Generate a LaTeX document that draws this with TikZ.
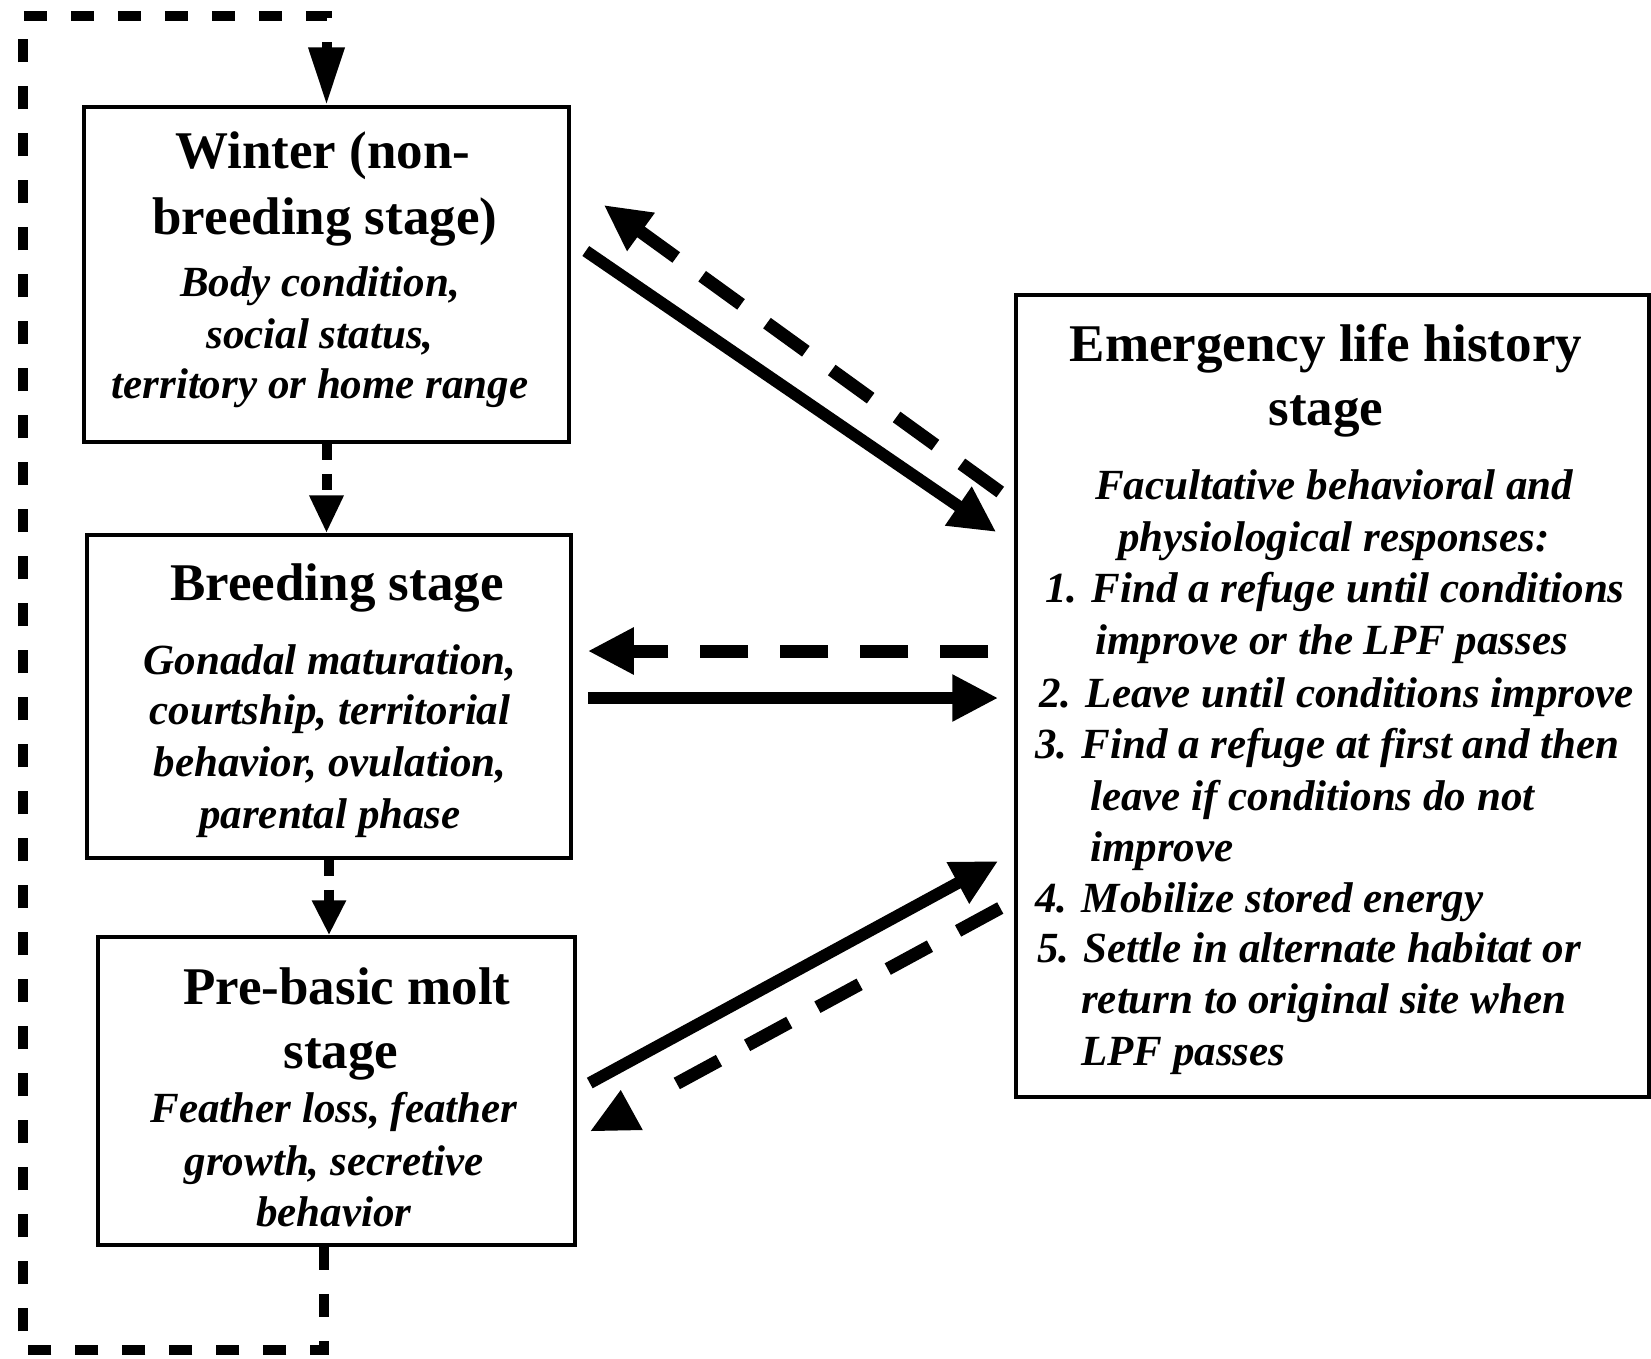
\documentclass[tikz,border=0pt]{standalone}
\usepackage{fontspec}
\setmainfont{Liberation Serif}
\usetikzlibrary{arrows.meta,calc}
\begin{document}
\begin{tikzpicture}[x=1pt,y=-1pt,
  box/.style={draw, line width=3.5pt, inner sep=0pt},
  ttl/.style={font=\fontsize{53}{65}\selectfont\bfseries, anchor=base, inner sep=0pt},
  itl/.style={font=\fontsize{43}{51}\selectfont\bfseries\itshape, anchor=base, inner sep=0pt},
  itw/.style={itl, anchor=base west},
  solidarrow/.style={line width=12pt, -{Triangle[length=46pt,width=44pt]}},
  dashline/.style={line width=13pt, dash pattern=on 48pt off 32pt},
  dasharrow/.style={dashline, -{Triangle[length=46pt,width=44pt]}},
  loopline/.style={line width=10pt, dash pattern=on 23pt off 24pt, -{Triangle[length=58pt,width=34pt]}},
  shortdash/.style={line width=10pt, dash pattern=on 16pt off 14pt}
]
\useasboundingbox (0,0) rectangle (1651,1358);

% boxes
\node[box, minimum width=485pt, minimum height=335pt] (winter) at (326.5,274.5) {};
\node[box, minimum width=484pt, minimum height=323pt] (breeding) at (329,696.5) {};
\node[box, minimum width=477pt, minimum height=308pt] (prebasic) at (336.5,1091) {};
\node[box, minimum width=633pt, minimum height=802pt] (emerg) at (1332.5,696) {};

% winter text
\node[ttl] (wt1) at (323,168) {Winter (non-};
\node[ttl] (wt2) at (325,234) {breeding stage)};
\node[itl] (wb1) at (320,296) {Body condition,};
\node[itl] (wb2) at (320,348) {social status,};
\node[itl] (wb3) at (320,398) {territory or home range};

% breeding text
\node[ttl] (bt1) at (337,600) {Breeding stage};
\node[itl] (bb1) at (330,674) {Gonadal maturation,};
\node[itl] (bb2) at (330,724) {courtship, territorial};
\node[itl] (bb3) at (330,776) {behavior, ovulation,};
\node[itl] (bb4) at (330,828) {parental phase};

% pre-basic text
\node[ttl] (pt1) at (347,1004) {Pre-basic molt};
\node[ttl] (pt2) at (341,1068) {stage};
\node[itl] (pb1) at (334,1122) {Feather loss, feather};
\node[itl] (pb2) at (334,1175) {growth, secretive};
\node[itl] (pb3) at (334,1226) {behavior};

% emergency text
\node[ttl] (et1) at (1326,361) {Emergency life history};
\node[ttl] (et2) at (1326,425) {stage};
\node[itl] (eb1) at (1334,499) {Facultative behavioral and};
\node[itl] (eb2) at (1334,551) {physiological responses:};
\node[itw] (el1) at (1045,602) {1. Find a refuge until conditions};
\node[itw] (el2) at (1095,654) {improve or the LPF passes};
\node[itw] (el3) at (1039,707) {2. Leave until conditions improve};
\node[itw] (el4) at (1035,758) {3. Find a refuge at first and then};
\node[itw] (el5) at (1090,810) {leave if conditions do not};
\node[itw] (el6) at (1090,861) {improve};
\node[itw] (el7) at (1035,912) {4. Mobilize stored energy};
\node[itw] (el8) at (1037,962) {5. Settle in alternate habitat or};
\node[itw] (el9) at (1081,1013) {return to original site when};
\node[itw] (el10) at (1081,1065) {LPF passes};

% loop coordinates
\coordinate (c1) at (324,1350);
\coordinate (c2) at (23,1350);
\coordinate (c3) at (23,16);
\coordinate (c4) at (326.5,16);

% dashed cycle
\draw[loopline] ([xshift=-12.5pt]prebasic.south) -- (c1) -- (c2) -- (c3) -- (c4) -- (winter.north);
\draw[shortdash, -{Triangle[length=38pt,width=32pt]}] (winter.south) -- (winter.south |- breeding.north);
\draw[shortdash, -{Triangle[length=35pt,width=32pt]}] (breeding.south) -- (breeding.south |- prebasic.north);

% arrows to and from the emergency stage
\draw[solidarrow] ($(winter.east)+(15,-23.5)$) -- ($(emerg.west)+(-18,-164)$);
\draw[dasharrow] ($(emerg.west)+(-14,-204)$) -- ($(winter.east)+(33,-69.5)$);
\draw[dasharrow] ($(emerg.west)+(-26,-45)$) -- ($(breeding.east)+(15,-45.5)$);
\draw[solidarrow] ($(breeding.east)+(15,1.5)$) -- ($(emerg.west)+(-16,2)$);
\draw[solidarrow] ($(prebasic.east)+(13,-8)$) -- ($(emerg.west)+(-16,165)$);
\coordinate (pbend) at ($(prebasic.east)+(88,-1)$);
\draw[dashline] ($(emerg.west)+(-14,212)$) -- (pbend);
% upright arrowhead at the end of the dashed return line
\fill ($(prebasic.east)+(44,-1)$) -- ($(prebasic.east)+(66,39)$) -- ($(prebasic.east)+(14,40)$) -- cycle;
\end{tikzpicture}
\end{document}
